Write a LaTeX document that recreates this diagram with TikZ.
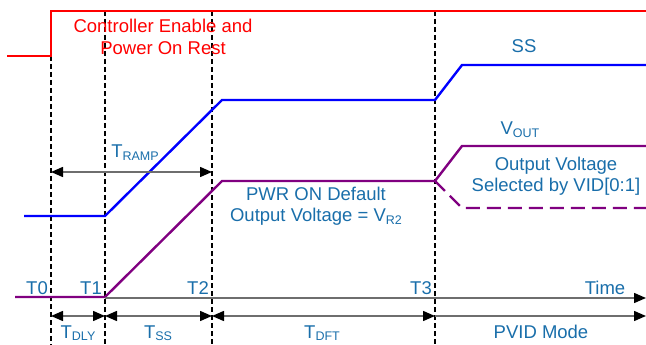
\documentclass[tikz,border=0pt]{standalone}
\usepackage{fontspec}
\setmainfont{Liberation Sans}
\usetikzlibrary{arrows.meta}
\definecolor{txtblue}{RGB}{25,110,170}
\definecolor{sigblue}{RGB}{0,0,255}
\definecolor{sigpurple}{RGB}{128,0,128}
\definecolor{sigred}{RGB}{255,0,0}
\definecolor{axgray}{RGB}{110,110,110}
\newcommand{\subtxt}[1]{\raisebox{-0.3ex}{\fontsize{12.5}{12.5}\selectfont #1}}
\tikzset{
  lbl/.style={text=txtblue, font=\fontsize{18.5}{21.5}\selectfont, inner sep=0pt, align=center},
  redlbl/.style={text=sigred, font=\fontsize{18.5}{21.5}\selectfont, inner sep=0pt, align=center},
  sig/.style={line width=2.4pt, line join=miter},
  mark line/.style={black, line width=1.4pt, dash pattern=on 5pt off 3pt},
  dimarrow/.style={axgray, line width=1.5pt, {Triangle[length=12pt,width=10pt,color=black]}-{Triangle[length=12pt,width=10pt,color=black]}},
  onearrow/.style={axgray, line width=1.5pt, -{Triangle[length=12pt,width=10pt,color=black]}},
}
\begin{document}
\begin{tikzpicture}[x=1pt,y=-1pt]
\useasboundingbox (0,0) rectangle (646,345);
% time markers
\coordinate (t0top) at (51,56);   \coordinate (t0bot) at (51,345);
\coordinate (t1top) at (105,11);  \coordinate (t1bot) at (105,345);
\coordinate (t2top) at (212,11);  \coordinate (t2bot) at (212,345);
\coordinate (t3top) at (435,11);  \coordinate (t3bot) at (435,345);
\draw[mark line] (t0top) -- (t0bot);
\draw[mark line] (t1top) -- (t1bot);
\draw[mark line] (t2top) -- (t2bot);
\draw[mark line] (t3top) -- (t3bot);
% red enable
\coordinate (r0) at (7,56); \coordinate (r1) at (51,56); \coordinate (r2) at (51,11); \coordinate (r3) at (646,11);
\draw[sig, sigred] (r0) -- (r1) -- (r2) -- (r3);
\node[redlbl] (ctl) at (163,37) {Controller Enable and\\Power On Rest};
% SS
\coordinate (s0) at (24,216); \coordinate (s1) at (105,216); \coordinate (s2) at (222,100);
\coordinate (s3) at (435,100); \coordinate (s4) at (462,65); \coordinate (s5) at (646,65);
\draw[sig, sigblue] (s0) -- (s1) -- (s2) -- (s3) -- (s4) -- (s5);
\node[lbl] (ss) at (524,46) {SS};
% VOUT
\coordinate (v0) at (15,297); \coordinate (v1) at (105,297); \coordinate (v2) at (222,181);
\coordinate (v3) at (435,181); \coordinate (v4) at (462,146); \coordinate (v5) at (646,146);
\coordinate (v6) at (462,208); \coordinate (v7) at (646,208);
\draw[sig, sigpurple] (v0) -- (v1) -- (v2) -- (v3) -- (v4) -- (v5);
\draw[sig, sigpurple, dash pattern=on 14pt off 7pt] (v3) -- (v6) -- (v7);
\node[lbl] (vout) at (520,130) {V\subtxt{OUT}};
\node[lbl] (pwr) at (316,206) {PWR ON Default\\Output Voltage = V\subtxt{R2}};
\node[lbl] (vid) at (556,176) {Output Voltage\\Selected by VID[0:1]};
% TRAMP
\coordinate (ra) at (51,172); \coordinate (rb) at (212,172);
\draw[dimarrow] (ra) -- (rb);
\node[lbl] (tramp) at (135,153) {T\subtxt{RAMP}};
% time axis
\coordinate (ta) at (105,298); \coordinate (tb) at (646,298);
\draw[onearrow] (ta) -- (tb);
\node[lbl, anchor=base east] (lt0) at (48,294) {T0};
\node[lbl, anchor=base east] (lt1) at (102,294) {T1};
\node[lbl, anchor=base east] (lt2) at (209,294) {T2};
\node[lbl, anchor=base east] (lt3) at (432,294) {T3};
\node[lbl, anchor=base] (ltime) at (605,294) {Time};
% bottom intervals
\coordinate (b0) at (51,316); \coordinate (b1) at (105,316); \coordinate (b2) at (212,316);
\coordinate (b3) at (435,316); \coordinate (b4) at (646,316);
\draw[dimarrow] (b0) -- (b1);
\draw[dimarrow] (b1) -- (b2);
\draw[dimarrow] (b2) -- (b3);
\draw[onearrow] (b3) -- (b4);
\node[lbl, anchor=base] (ldly) at (78,338) {T\subtxt{DLY}};
\node[lbl, anchor=base] (lss) at (158,338) {T\subtxt{SS}};
\node[lbl, anchor=base] (ldft) at (322,338) {T\subtxt{DFT}};
\node[lbl, anchor=base] (lpvid) at (541,338) {PVID Mode};
\end{tikzpicture}
\end{document}
